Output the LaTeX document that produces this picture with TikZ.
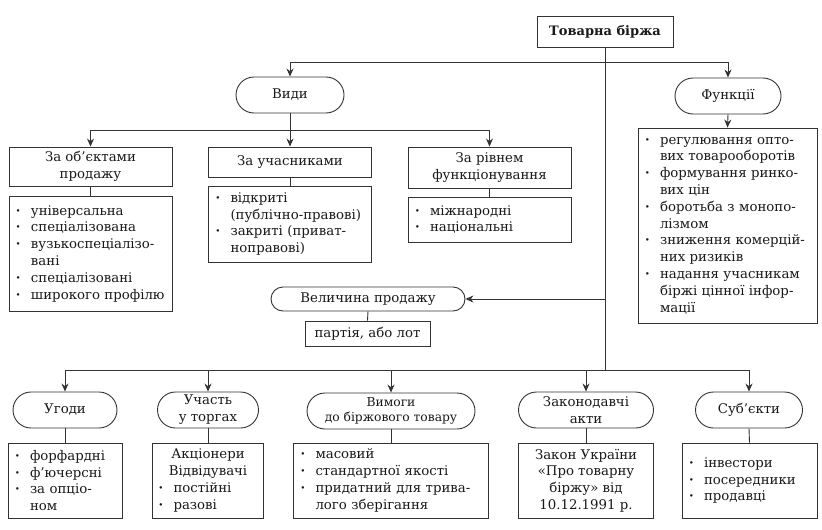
\documentclass[tikz,border=0pt]{standalone}
\usepackage{fontspec}
\setmainfont{DejaVu Serif}
\usetikzlibrary{arrows.meta}
\newcommand\bu[1]{\mbox{\makebox[15pt][l]{\textbf{\textperiodcentered}}#1}}
\newcommand\ind[1]{\mbox{\hspace*{15pt}#1}}
\begin{document}
\begin{tikzpicture}[x=1pt,y=-1pt,
  every node/.style={font=\fontsize{13.3}{16.8}\selectfont, text=black!90},
  ln/.style={draw=black!80, line width=0.9pt},
  arr/.style={ln, -{Stealth[length=8pt,width=7pt]}},
  box/.style={draw=black!80, line width=0.9pt, rectangle, inner sep=0pt, align=center},
  lst/.style={box, inner ysep=0pt, inner xsep=7pt, text width=#1, align=left},
  oval/.style={draw=black!80, line width=0.9pt, rounded corners=#1, inner sep=0pt, align=center},
]
\useasboundingbox (0,0) rectangle (822,530);
\fill[white] (0,0) rectangle (822,530);

% top
\node[box, minimum width=136, minimum height=31, font=\fontsize{13}{16.5}\selectfont\bfseries] (top) at (605,31.5) {Товарна біржа};
\coordinate (j1) at (605,62);
\coordinate (j2) at (605,299);
\coordinate (j3) at (605,370);

\node[oval=18pt, minimum width=108, minimum height=36] (vydy) at (290,95) {Види};
\node[oval=18pt, minimum width=106, minimum height=36] (func) at (728,96) {Функції};

\coordinate (j4) at (290,130);

\node[box, minimum width=163, minimum height=39] (obj) at (90.5,166.5) {За об’єктами\\продажу};
\node[lst=149pt, minimum height=115] (objL) at (90.5,253.5) {\bu{універсальна}\\\bu{спеціалізована}\\\bu{вузькоспеціалізо-}\\\ind{вані}\\\bu{спеціалізовані}\\\bu{широкого профілю}};

\node[box, minimum width=163, minimum height=30] (uch) at (290,162) {За учасниками};
\node[lst=149pt, minimum height=76] (uchL) at (290,224) {\bu{відкриті}\\\ind{(публічно-правові)}\\\bu{закриті (приват-}\\\ind{ноправові)}};

\node[box, minimum width=163, minimum height=41] (riv) at (489.5,167.5) {За рівнем\\функціонування};
\node[lst=149pt, minimum height=45] (rivL) at (489.5,219.5) {\bu{міжнародні}\\\bu{національні}};

\node[lst=165pt, minimum height=195] (funcL) at (727.5,225.5) {\bu{регулювання опто-}\\\ind{вих товарооборотів}\\\bu{формування ринко-}\\\ind{вих цін}\\\bu{боротьба з монопо-}\\\ind{лізмом}\\\bu{зниження комерцій-}\\\ind{них ризиків}\\\bu{надання учасникам}\\\ind{біржі цінної інфор-}\\\ind{мації}};

\node[oval=12pt, minimum width=194, minimum height=24] (vel) at (368,299) {Величина продажу};
\node[box, minimum width=125, minimum height=25] (par) at (367.5,333.5) {партія, або лот};

% bottom ovals
\node[oval=18pt, minimum width=104, minimum height=36] (ug) at (65,410) {Угоди};
\node[oval=18pt, minimum width=101, minimum height=36] (tor) at (208,410) {Участь\\у торгах};
\node[oval=18pt, minimum width=168, minimum height=36, font=\fontsize{12.3}{15.5}\selectfont] (vym) at (391,411) {Вимоги\\до біржового товару};
\node[oval=18pt, minimum width=135, minimum height=36] (zak) at (586,410) {Законодавчі\\акти};
\node[oval=18pt, minimum width=107, minimum height=36] (sub) at (749,410) {Суб’єкти};

% bottom lists
\node[lst=100pt, minimum height=75] (ugL) at (65,480.5) {\bu{форфардні}\\\bu{ф’ючерсні}\\\bu{за опціо-}\\\ind{ном}};
\node[box, inner xsep=6pt, text width=99pt, minimum height=75] (torL) at (208,480.5) {Акціонери\\Відвідувачі\\\makebox[99pt][l]{\bu{постійні}}\\\makebox[99pt][l]{\bu{разові}}};
\node[lst=181pt, minimum height=75] (vymL) at (391,480.5) {\bu{масовий}\\\bu{стандартної якості}\\\bu{придатний для трива-}\\\ind{лого зберігання}};
\node[box, minimum width=135, minimum height=75] (zakL) at (586,480.5) {Закон України\\«Про товарну\\біржу» від\\10.12.1991 р.};
\node[lst=121pt, minimum height=75] (subL) at (749.5,480.5) {\bu{інвестори}\\\bu{посередники}\\\bu{продавці}};

% connectors
\draw[ln] (top.south) -- (j3);
\draw[arr] (j1) -| (vydy.north);
\draw[arr] (j1) -| (func.north);
\draw[ln] (vydy.south) -- (j4);
\draw[arr] (j4) -| (obj.north);
\draw[arr] (j4) -- (uch.north);
\draw[arr] (j4) -| (riv.north);
\draw[ln] (obj.south) -- (objL.north);
\draw[ln] (uch.south) -- (uchL.north);
\draw[ln] (riv.south) -- (rivL.north);
\draw[arr] (func.south) -- (funcL.north);
\draw[arr] (j2) -- (vel.east);
\draw[ln] (vel.south) -- (par.north);
\draw[arr] (j3) -| (ug.north);
\draw[arr] (j3) -| (tor.north);
\draw[arr] (j3) -| (vym.north);
\draw[arr] (j3) -| (zak.north);
\draw[arr] (j3) -| (sub.north);
\draw[ln] (ug.south) -- (ugL.north);
\draw[ln] (tor.south) -- (torL.north);
\draw[ln] (vym.south) -- (vymL.north);
\draw[ln] (zak.south) -- (zakL.north);
\draw[ln] (sub.south) -- (subL.north);
\end{tikzpicture}
\end{document}
